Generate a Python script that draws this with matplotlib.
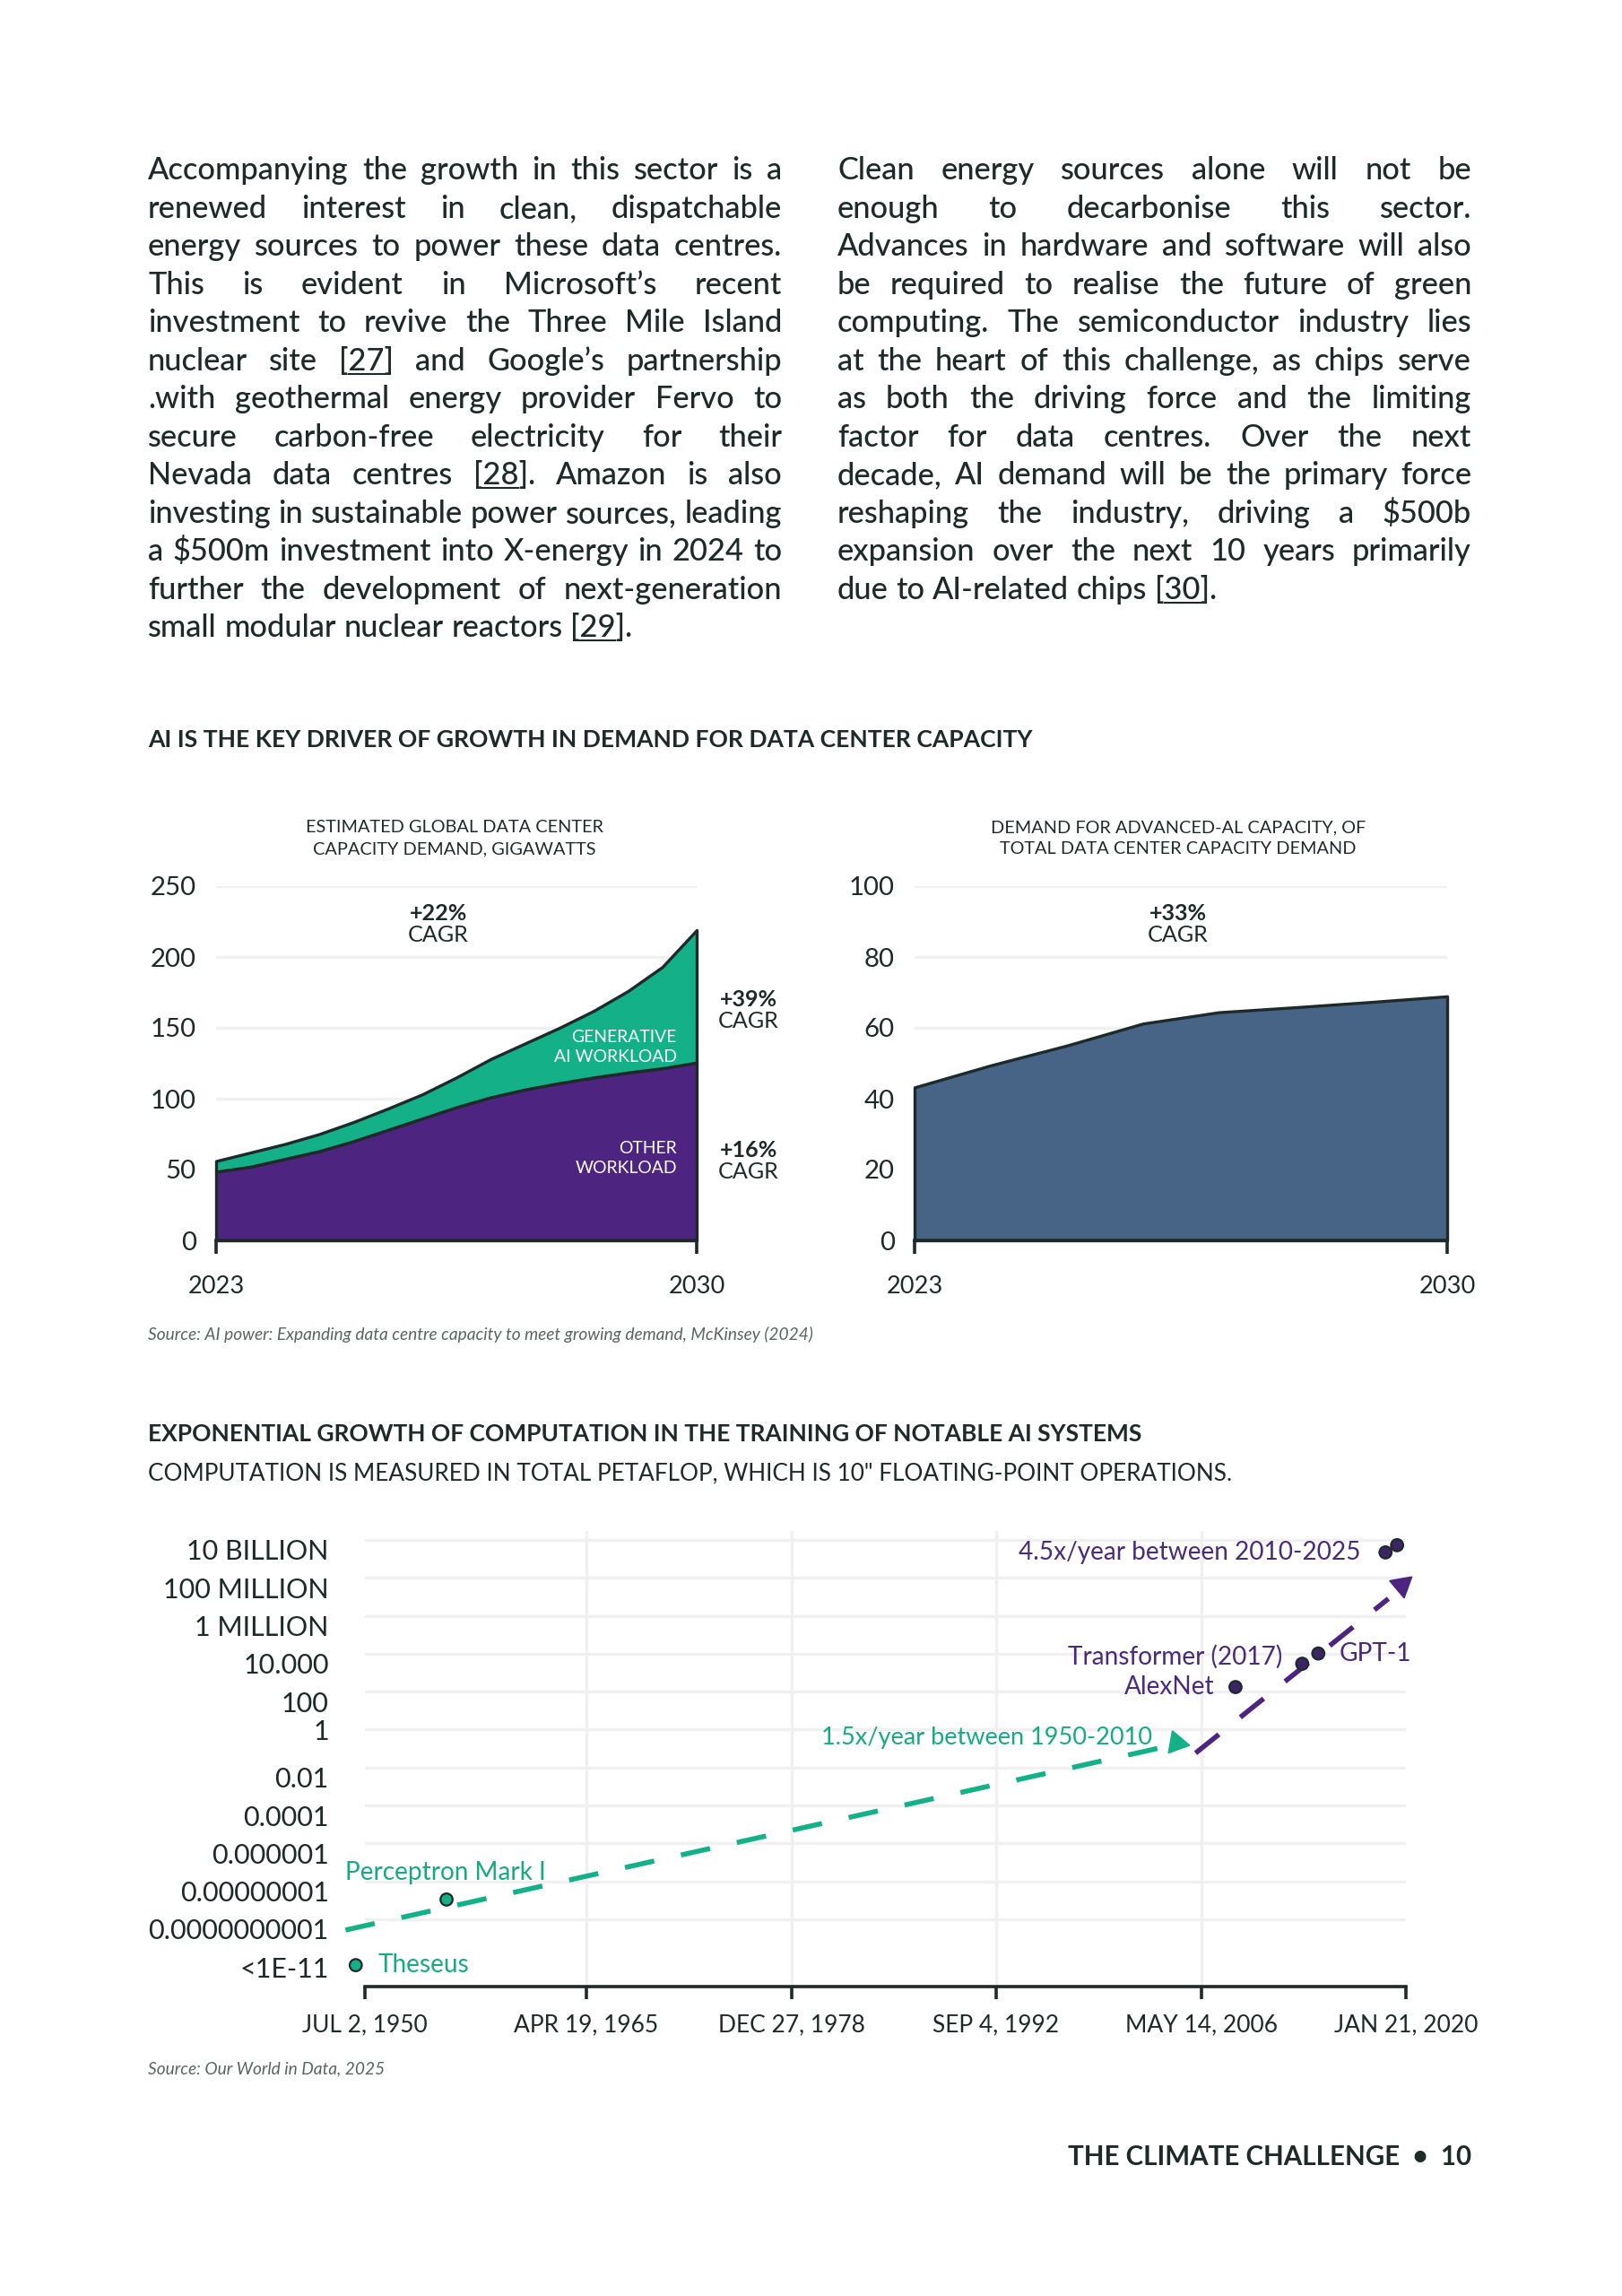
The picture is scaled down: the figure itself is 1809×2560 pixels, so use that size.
import datetime as dt
import matplotlib
matplotlib.use('Agg')
import matplotlib.pyplot as plt
from matplotlib.lines import Line2D
from matplotlib.transforms import ScaledTranslation

W, H = 1809, 2560
FONT = ['Lato', 'DejaVu Sans']
INK = '#1e2a29'
GREEN = '#14b088'
GREEN_TXT = '#17a982'
PURPLE = '#4d2580'
PURPLE_TXT = '#4a2a7c'
DOT_PURPLE = '#3c2468'
BLUE = '#476486'
GRID = '#f0f0f0'
GREY = '#5d6362'

# ---- text ----
left_lines = [
    "Accompanying the growth in this sector is a",
    "renewed interest in clean, dispatchable",
    "energy sources to power these data centres.",
    "This is evident in Microsoft\u2019s recent",
    "investment to revive the Three Mile Island",
    "nuclear site [27] and Google\u2019s partnership",
    ".with geothermal energy provider Fervo to",
    "secure carbon-free electricity for their",
    "Nevada data centres [28]. Amazon is also",
    "investing in sustainable power sources, leading",
    "a $500m investment into X-energy in 2024 to",
    "further the development of next-generation",
    "small modular nuclear reactors [29].",
]
right_lines = [
    "Clean energy sources alone will not be",
    "enough to decarbonise this sector.",
    "Advances in hardware and software will also",
    "be required to realise the future of green",
    "computing. The semiconductor industry lies",
    "at the heart of this challenge, as chips serve",
    "as both the driving force and the limiting",
    "factor for data centres. Over the next",
    "decade, AI demand will be the primary force",
    "reshaping the industry, driving a $500b",
    "expansion over the next 10 years primarily",
    "due to AI-related chips [30].",
]

# ---- data: data centre capacity (GW) ----
cap_years = [2023, 2023.5, 2024, 2024.5, 2025, 2025.5, 2026, 2026.5,
             2027, 2027.5, 2028, 2028.5, 2029, 2029.5, 2030]
cap_total = [56, 62, 68, 75, 83.5, 93, 103, 115, 128, 139, 150, 162, 176, 193, 219]
cap_other = [48.5, 52, 57.5, 63, 70, 78, 86, 94, 101, 106.5, 111, 115, 118.5, 121.5, 125.5]

# ---- data: advanced-AI share of demand (%) ----
adv_years = [2023, 2024, 2025, 2026, 2027, 2028, 2029, 2030]
adv_share = [43.2, 49.4, 55.0, 61.2, 64.4, 65.8, 67.3, 68.9]

# ---- data: training computation (petaFLOP) ----
sys_names = ['Theseus', 'Perceptron Mark I', 'AlexNet', 'Transformer (2017)', 'GPT-1', '', '']
sys_dates = [dt.date(1949, 11, 20), dt.date(1955, 12, 15), dt.date(2008, 9, 1),
             dt.date(2013, 2, 15), dt.date(2014, 3, 15), dt.date(2018, 9, 10),
             dt.date(2019, 6, 20)]
sys_pflop = [10 ** -12.42, 10 ** -8.96, 10 ** 2.24, 10 ** 3.47, 10 ** 4.01,
             10 ** 9.34, 10 ** 9.72]
sys_deep = [False, False, True, True, True, True, True]

pre_trend_dates = [dt.date(1949, 3, 15), dt.date(2004, 1, 1)]
pre_trend_pflop = [10 ** -10.57, 10 ** -0.9]
pre_arrow = (dt.date(2004, 9, 13), 10 ** -0.69)
deep_trend_dates = [dt.date(2006, 1, 1), dt.date(2018, 11, 20)]
deep_trend_pflop = [10 ** -1.24, 10 ** 6.9]
deep_arrow = (dt.date(2019, 10, 5), 10 ** 7.64)

comp_ticks = [1e10, 1e8, 1e6, 1e4, 1e2, 1, 1e-2, 1e-4, 1e-6, 1e-8, 1e-10, 1e-12]
comp_labels = ['10 BILLION', '100 MILLION', '1 MILLION', '10.000', '100', '1', '0.01',
               '0.0001', '0.000001', '0.00000001', '0.0000000001', '<1E-11']
date_ticks = [dt.date(1950, 7, 2), dt.date(1965, 4, 19), dt.date(1978, 12, 27),
              dt.date(1992, 9, 4), dt.date(2006, 5, 14), dt.date(2020, 1, 21)]
date_labels = ['JUL 2, 1950', 'APR 19, 1965', 'DEC 27, 1978', 'SEP 4, 1992',
               'MAY 14, 2006', 'JAN 21, 2020']


fig = plt.figure(figsize=(W / 100, H / 100), dpi=100)
fig.patch.set_facecolor('white')
renderer = fig.canvas.get_renderer()


def fx(x):
    return x / W


def fy(y):
    return 1 - y / H


def text_w(s, size, weight='normal', style='normal'):
    t = fig.text(0, 0, s, fontsize=size, fontweight=weight, fontstyle=style,
                 family=FONT, parse_math=False)
    w = t.get_window_extent(renderer).width
    t.remove()
    return w


def fit(s, width, weight='normal', style='normal'):
    return 20 * width / text_w(s, 20, weight, style)


def put(x, y, s, size, **kw):
    kw.setdefault('color', INK)
    kw.setdefault('family', FONT)
    return fig.text(fx(x), fy(y), s, fontsize=size, parse_math=False, **kw)


def axes_px(x0, y0, x1, y1):
    return fig.add_axes([fx(x0), fy(y1), (x1 - x0) / W, (y1 - y0) / H])


BODY_W = 'medium'


def paragraph(lines, x0, x1, y_first, step, size):
    space = text_w('a a', size, BODY_W) - text_w('aa', size, BODY_W)
    base_off = 0.36 * size * 100 / 72
    for i, line in enumerate(lines):
        words = line.split()
        widths = [text_w(w, size, BODY_W) for w in words]
        if i == len(lines) - 1:
            gap = space
        else:
            gap = (x1 - x0 - sum(widths)) / (len(words) - 1)
        x = x0
        yb = y_first + i * step + base_off
        for w, wd in zip(words, widths):
            put(x, yb, w, size, va='baseline', fontweight=BODY_W)
            if '[' in w:
                a = w.index('[')
                ref = w[a + 1:w.index(']')]
                pre = text_w(w[:a + 1], size, BODY_W)
                ul = text_w(ref, size, BODY_W)
                fig.add_artist(Line2D([fx(x + pre), fx(x + pre + ul)],
                                      [fy(yb + 4), fy(yb + 4)], color=INK, lw=1.5))
            x += wd + gap


# body text, justified
body = min(20 * 707 / max(text_w(l, 20, BODY_W) for l in left_lines[:-1]),
           20 * 707 / max(text_w(l, 20, BODY_W) for l in right_lines[:-1]))
paragraph(left_lines, 165, 872, 188, 42.5, body)
paragraph(right_lines, 934, 1641, 188, 42.5, body)

# section 1 heading
h1 = 'AI IS THE KEY DRIVER OF GROWTH IN DEMAND FOR DATA CENTER CAPACITY'
put(165, 825, h1, fit(h1, 988, 'bold'), fontweight='bold', va='center')

sub = fit('ESTIMATED GLOBAL DATA CENTER', 331)
put(507, 923, 'ESTIMATED GLOBAL DATA CENTER', sub, ha='center', va='center')
put(507, 947, 'CAPACITY DEMAND, GIGAWATTS', sub, ha='center', va='center')
put(1314, 923, 'DEMAND FOR ADVANCED-AL CAPACITY, OF', sub, ha='center', va='center')
put(1314, 947, 'TOTAL DATA CENTER CAPACITY DEMAND', sub, ha='center', va='center')

tick_sz = fit('250', 51)
year_sz = fit('2023', 63)
cagr_sz = fit('CAGR', 68)
lab_sz = fit('AI WORKLOAD', 137)

# left chart: stacked area
ax1 = axes_px(241, 988, 777, 1383)
ax1.fill_between(cap_years, 0, cap_other, facecolor=PURPLE, edgecolor=INK,
                 lw=2.4, zorder=2, clip_on=False)
ax1.fill_between(cap_years, cap_other, cap_total, facecolor=GREEN, edgecolor=INK,
                 lw=2.4, zorder=3, clip_on=False)
ax1.set_xlim(2023, 2030)
ax1.set_ylim(0, 250)
ax1.set_yticks([0, 50, 100, 150, 200, 250])

# right chart: single area
ax2 = axes_px(1020, 988, 1614, 1383)
ax2.fill_between(adv_years, 0, adv_share, facecolor=BLUE, edgecolor=INK,
                 lw=2.4, zorder=2, clip_on=False)
ax2.set_xlim(2023, 2030)
ax2.set_ylim(0, 100)
ax2.set_yticks([0, 20, 40, 60, 80, 100])

for ax in (ax1, ax2):
    ax.set_xticks([2023, 2030])
    ax.set_xticklabels(['2023', '2030'])
    ax.yaxis.grid(True, color=GRID, lw=2.5)
    ax.set_axisbelow(True)
    for s in ('top', 'right', 'left'):
        ax.spines[s].set_visible(False)
    ax.spines['bottom'].set(color=INK, lw=2.6, zorder=4)
    ax.tick_params(axis='y', length=0, pad=16, labelsize=tick_sz, labelcolor=INK)
    ax.tick_params(axis='x', length=11, width=2.6, color=INK, pad=17,
                   labelsize=year_sz, labelcolor=INK)
    for t in ax.get_xticklabels() + ax.get_yticklabels():
        t.set_family(FONT)

# CAGR callouts
put(489, 1019, '+22%', cagr_sz, ha='center', va='center', fontweight='bold')
put(489, 1043, 'CAGR', cagr_sz, ha='center', va='center')
put(835, 1115, '+39%', cagr_sz, ha='center', va='center', fontweight='bold')
put(835, 1138, 'CAGR', cagr_sz, ha='center', va='center')
put(835, 1283, '+16%', cagr_sz, ha='center', va='center', fontweight='bold')
put(835, 1307, 'CAGR', cagr_sz, ha='center', va='center')
put(1314, 1019, '+33%', cagr_sz, ha='center', va='center', fontweight='bold')
put(1314, 1043, 'CAGR', cagr_sz, ha='center', va='center')
put(755, 1157, 'GENERATIVE', lab_sz, ha='right', va='center', color='white')
put(755, 1178, 'AI WORKLOAD', lab_sz, ha='right', va='center', color='white')
put(755, 1281, 'OTHER', lab_sz, ha='right', va='center', color='white')
put(755, 1302, 'WORKLOAD', lab_sz, ha='right', va='center', color='white')

src1 = 'Source: AI power: Expanding data centre capacity to meet growing demand, McKinsey (2024)'
src_sz = fit(src1, 742, style='italic')
put(165, 1488, src1, src_sz, va='center', style='italic', color=GREY)

# section 2 heading
h2 = 'EXPONENTIAL GROWTH OF COMPUTATION IN THE TRAINING OF NOTABLE AI SYSTEMS'
put(165, 1599, h2, fit(h2, 1108, 'bold'), fontweight='bold', va='center')
s2 = 'COMPUTATION IS MEASURED IN TOTAL PETAFLOP, WHICH IS 10" FLOATING-POINT OPERATIONS.'
put(165, 1643, s2, fit(s2, 1208), va='center')

# bottom chart: log scale timeline
ax3 = axes_px(407, 1707, 1568, 2215)
ax3.set_yscale('log')
ax3.set_ylim(10 ** -13.55, 10 ** 10.47)
ax3.set_xlim(date_ticks[0], date_ticks[-1])
ax3.set_yticks(comp_ticks)
ax3.set_yticklabels(comp_labels)
ax3.minorticks_off()
ax3.set_xticks(date_ticks)
ax3.set_xticklabels(date_labels)
ax3.grid(True, color=GRID, lw=2.5)
ax3.set_axisbelow(True)
ax3.get_ygridlines()[-1].set_visible(False)
ax3.get_xgridlines()[0].set_visible(False)
ax3.get_xgridlines()[-1].set_visible(False)
for s in ('top', 'right', 'left'):
    ax3.spines[s].set_visible(False)
ax3.spines['bottom'].set(color=INK, lw=2.6)
ylab_sz = fit('0.0000000001', 202)
ax3.tick_params(axis='y', length=0, pad=29, labelsize=ylab_sz, labelcolor=INK)
ax3.tick_params(axis='x', length=10, width=2.6, color=INK, pad=12,
                labelsize=fit('JUL 2, 1950', 140), labelcolor=INK)
for t, lab in zip(ax3.get_yticklabels(), comp_labels):
    t.set_family(FONT)
    if lab != '1':
        t.set_transform(t.get_transform() + ScaledTranslation(0, -0.11, fig.dpi_scale_trans))
for t in ax3.get_xticklabels():
    t.set_family(FONT)

ax3.plot(pre_trend_dates, pre_trend_pflop, color=GREEN, lw=4, dashes=(6, 5.5),
         dash_capstyle='butt', clip_on=False, zorder=3)
ax3.plot(deep_trend_dates, deep_trend_pflop, color=PURPLE, lw=4, dashes=(6, 5.5),
         dash_capstyle='butt', clip_on=False, zorder=3)
ax3.plot([pre_arrow[0]], [pre_arrow[1]], marker=(3, 0, -100), ms=21, color=GREEN,
         clip_on=False, zorder=4)
ax3.plot([deep_arrow[0]], [deep_arrow[1]], marker=(3, 0, 190), ms=21, color=PURPLE,
         clip_on=False, zorder=4)

dot_cols = [DOT_PURPLE if d else GREEN for d in sys_deep]
ax3.scatter(sys_dates, sys_pflop, s=95, c=dot_cols, edgecolors=INK, linewidths=1.6,
            zorder=5, clip_on=False)

ann_sz = fit('4.5x/year between 2010-2025', 381)
label_offsets = [(25, 0, 'left'), (-113, 30, 'left'), (-23, 0, 'right'),
                 (-22, 8, 'right'), (23, 0, 'left')]
for i, (dx, dy, ha) in enumerate(label_offsets):
    ax3.annotate(sys_names[i], (sys_dates[i], sys_pflop[i]), xytext=(dx, dy),
                 textcoords='offset pixels', ha=ha, va='center', fontsize=ann_sz,
                 family=FONT, color=PURPLE_TXT if sys_deep[i] else GREEN_TXT,
                 annotation_clip=False)
ax3.annotate('4.5x/year between 2010-2025', (sys_dates[5], sys_pflop[5]), xytext=(-28, 0),
             textcoords='offset pixels', ha='right', va='center', fontsize=ann_sz,
             family=FONT, color=PURPLE_TXT, annotation_clip=False)
ax3.annotate('1.5x/year between 1950-2010', pre_arrow, xytext=(-27, 6),
             textcoords='offset pixels', ha='right', va='center',
             fontsize=fit('1.5x/year between 1950-2010', 370),
             family=FONT, color=GREEN_TXT, annotation_clip=False)

src2 = 'Source: Our World in Data, 2025'
put(165, 2307, src2, src_sz, va='center', style='italic', color=GREY)

foot = 'THE CLIMATE CHALLENGE  \u2022  10'
put(1641, 2405, foot, fit(foot, 450, 'bold'), ha='right', va='center', fontweight='bold')

fig.savefig('out.png', dpi=100, facecolor='white')
